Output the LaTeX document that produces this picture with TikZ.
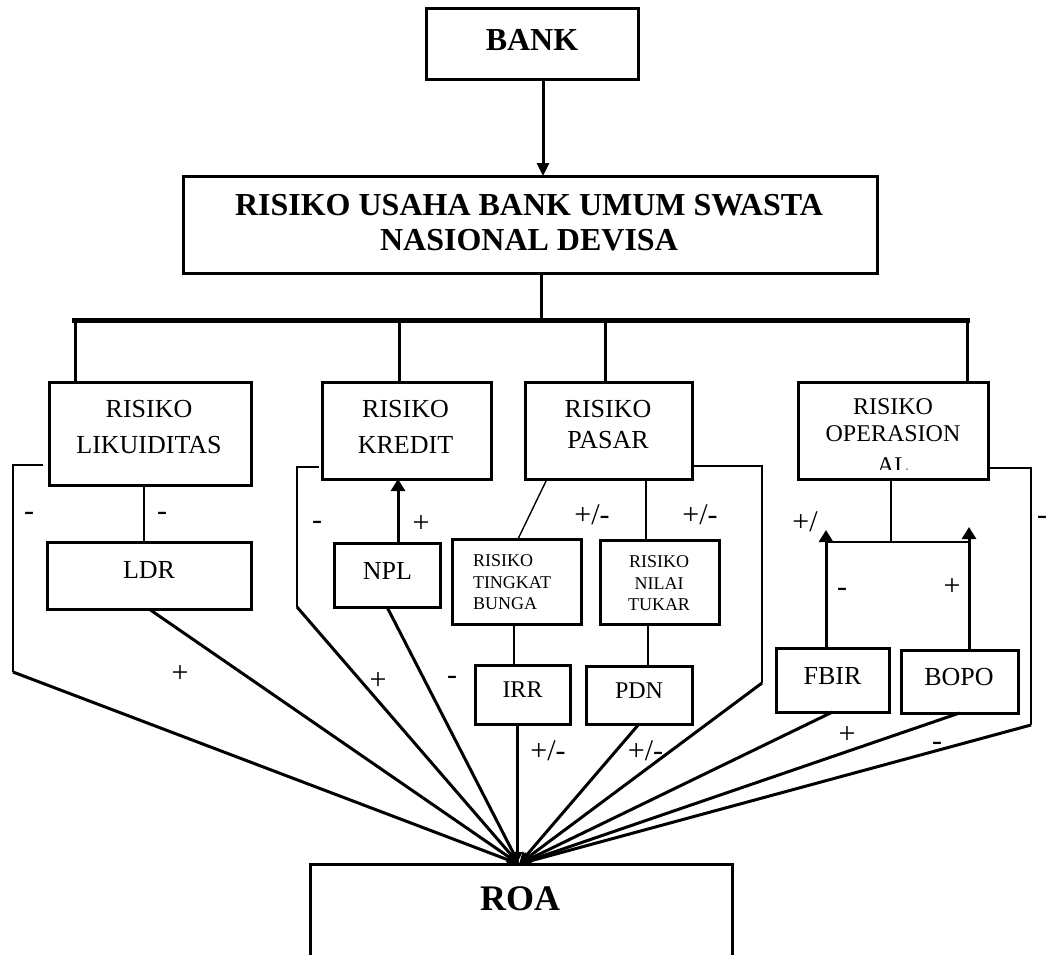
\documentclass[tikz,border=0pt]{standalone}
\usepackage{fontspec}
\setmainfont{Liberation Serif}
\usetikzlibrary{arrows.meta,calc}
\newcommand\fsTitle{\bfseries\fontsize{32}{35}\selectfont}
\newcommand\fsRoa{\bfseries\fontsize{36}{40}\selectfont}
\newcommand\fsMid{\fontsize{26}{36}\selectfont}
\newcommand\fsMidB{\fontsize{26}{31}\selectfont}
\newcommand\fsOps{\fontsize{24}{27}\selectfont}
\newcommand\fsSmall{\fontsize{18}{21.5}\selectfont}
\newcommand\fsLbl{\fontsize{30}{30}\selectfont}
\begin{document}
\begin{tikzpicture}[x=1pt,y=-1pt,
  frame/.style={draw, line width=3pt, inner sep=0pt, outer sep=0pt},
  txt/.style={inner sep=0pt, outer sep=0pt, anchor=north, align=center},
  thinline/.style={line width=1.4pt},
  thk/.style={line width=3pt},
  tipB/.style={-{Triangle[length=13pt,width=12pt]}},
  tipS/.style={-{Triangle[length=12pt,width=14pt]}},
  tipR/.style={-{Triangle[length=12pt,width=10pt]}},
  lbl/.style={inner sep=0pt, outer sep=0pt, anchor=base, font=\fsLbl},
]
\useasboundingbox (0,0) rectangle (1046,955);

% ---------- boxes ----------
\node[frame, minimum width=212pt, minimum height=71pt] (bank) at (532,44.5) {};
\node[frame, minimum width=694pt, minimum height=97pt] (main) at (530,224.5) {};
\node[frame, minimum width=202pt, minimum height=103pt] (lik) at (150,433.5) {};
\node[frame, minimum width=169pt, minimum height=97pt] (kre) at (406.5,430.5) {};
\node[frame, minimum width=167pt, minimum height=97pt] (pas) at (608.5,430.5) {};
\node[frame, minimum width=190pt, minimum height=97pt] (ops) at (893,430.5) {};
\node[frame, minimum width=204pt, minimum height=67pt] (ldr) at (149,575.5) {};
\node[frame, minimum width=106pt, minimum height=64pt] (npl) at (387,575) {};
\node[frame, minimum width=129pt, minimum height=85pt] (tkb) at (516.5,581.5) {};
\node[frame, minimum width=119pt, minimum height=84pt] (nil) at (659.5,582) {};
\node[frame, minimum width=95pt, minimum height=59pt] (irr) at (522.5,694.5) {};
\node[frame, minimum width=106pt, minimum height=58pt] (pdn) at (639,695) {};
\node[frame, minimum width=113pt, minimum height=64pt] (fbir) at (832.5,680) {};
\node[frame, minimum width=117pt, minimum height=63pt] (bopo) at (959.5,681.5) {};
\node[frame, anchor=north, minimum width=422pt, minimum height=140pt] (roa) at (521,864) {};

% ---------- texts ----------
\node[txt, font=\fsTitle] (tbank) at (532,29) {BANK};
\node[txt, font=\fsTitle] (tmain) at (529,194) {RISIKO USAHA BANK UMUM SWASTA\\NASIONAL DEVISA};
\node[txt, font=\fsMid] (tlik) at (149,400) {RISIKO\\LIKUIDITAS};
\node[txt, font=\fsMid] (tkre) at (405.5,400) {RISIKO\\KREDIT};
\node[txt, font=\fsMidB] (tpas) at (608,400) {RISIKO\\PASAR};
\node[txt, font=\fsOps] (tops) at (893,399) {RISIKO\\OPERASION};
\begin{scope}
  \clip (798,382) rectangle (988,469);
  \node[inner sep=0pt, anchor=base, font=\fsOps] (tal) at (893,473) {AL};
\end{scope}
\node[txt, font=\fsMid] (tldr) at (149,561) {LDR};
\node[txt, font=\fsMid] (tnpl) at (387.5,562) {NPL};
\node[txt, font=\fsSmall, anchor=north west, align=left] (ttkb) at (473,555) {RISIKO\\TINGKAT\\BUNGA};
\node[txt, font=\fsSmall] (tnil) at (659,556) {RISIKO\\NILAI\\TUKAR};
\node[txt, font=\fsOps] (tirr) at (522.5,682) {IRR};
\node[txt, font=\fsOps] (tpdn) at (639,683) {PDN};
\node[txt, font=\fsMid] (tfbir) at (832.5,667) {FBIR};
\node[txt, font=\fsMid] (tbopo) at (959,668) {BOPO};
\node[txt, font=\fsRoa] (troa) at (520,887) {ROA};

% ---------- top structure ----------
\draw[thk, tipB] ([xshift=11pt]bank.south) -- ([xshift=11pt]bank.south |- main.north);
\coordinate (busL) at (72,320);
\coordinate (busR) at (970,320);
\draw[thk] ([xshift=11pt]main.south) -- ([xshift=11pt]main.south |- busL);
\draw[line width=5pt] (busL) -- (busR);
\coordinate (d1) at (75,320);
\coordinate (d2) at (399,320);
\coordinate (d3) at (605,320);
\coordinate (d4) at (967,320);
\draw[thk] (d1) -- (d1 |- lik.north);
\draw[thk] (d2) -- (d2 |- kre.north);
\draw[thk] (d3) -- (d3 |- pas.north);
\draw[thk] (d4) -- (d4 |- ops.north);

% ---------- thin connectors ----------
\draw[thinline] ([xshift=-6pt]lik.south) -- ([xshift=-6pt]lik.south |- ldr.north);
\draw[thinline] ([xshift=-61.5pt]pas.south) -- ([xshift=1.5pt]tkb.north);
\draw[thinline] ([xshift=37.5pt]pas.south) -- ([xshift=37.5pt]pas.south |- nil.north);
\draw[thinline] ([xshift=-2.5pt]tkb.south) -- ([xshift=-2.5pt]tkb.south |- irr.north);
\draw[thinline] ([xshift=-11.5pt]nil.south) -- ([xshift=-11.5pt]nil.south |- pdn.north);
\coordinate (opj) at (891,542);
\coordinate (opL) at (826,542);
\coordinate (opR) at (969,542);
\draw[thinline] (ops.south -| opj) -- (opj);
\draw[thinline] (opL) -- (opR);

% ---------- upward arrows ----------
\draw[thk, tipS] ([xshift=11pt]npl.north) -- ([xshift=11pt]npl.north |- kre.south);
\draw[thk, tipS] (fbir.north -| opL) -- ([yshift=12pt]opL);
\draw[thk, tipS] (bopo.north -| opR) -- ([yshift=15pt]opR);

% ---------- brackets ----------
\coordinate (b1a) at (43,465);  \coordinate (b1b) at (13,465);  \coordinate (b1c) at (13,672);
\coordinate (b2a) at (319,467); \coordinate (b2b) at (297,467); \coordinate (b2c) at (297,607);
\coordinate (b3a) at (694,466); \coordinate (b3b) at (762,466); \coordinate (b3c) at (762,683);
\coordinate (b4a) at (988,468); \coordinate (b4b) at (1031,468); \coordinate (b4c) at (1031,725);
\draw[thinline] (b1a) -- (b1b) -- (b1c);
\draw[thinline] (b2a) -- (b2b) -- (b2c);
\draw[thinline] (b3a) -- (b3b) -- (b3c);
\draw[thinline] (b4a) -- (b4b) -- (b4c);

% ---------- lines into ROA ----------
\coordinate (rt) at ([xshift=-2pt]roa.north);
\draw[thk, tipR] (b1c) -- (rt);
\draw[thk, tipR] (ldr.south) -- (rt);
\draw[thk, tipR] (b2c) -- (rt);
\draw[thk, tipR] (npl.south) -- (rt);
\draw[thk, tipR] ([xshift=-5.5pt]irr.south) -- ([xshift=-5.5pt]irr.south |- roa.north);
\draw[thk, tipR] (pdn.south) -- (rt);
\draw[thk, tipR] (b3c) -- (rt);
\draw[thk, tipR] (fbir.south) -- (rt);
\draw[thk, tipR] (bopo.south) -- (rt);
\draw[thk, tipR] (b4c) -- (rt);

% ---------- signs ----------
\node[lbl] (l1) at (29,520) {-};
\node[lbl] (l2) at (162,520) {-};
\node[lbl] (l3) at (180,682) {+};
\node[lbl] (l4) at (317,529) {-};
\node[lbl] (l5) at (421,532) {+};
\node[lbl] (l6) at (378,689) {+};
\node[lbl] (l7) at (452,684) {-};
\node[lbl] (l8) at (592,524) {+/-};
\node[lbl] (l9) at (700,524) {+/-};
\node[lbl] (l10) at (548,760) {+/-};
\node[lbl] (l11) at (645.5,760) {+/-};
\node[lbl] (l12) at (805,531) {+/};
\node[lbl] (l13) at (842,596) {-};
\node[lbl] (l14) at (952,595) {+};
\node[lbl] (l15) at (847,743) {+};
\node[lbl] (l16) at (937,750) {-};
\node[lbl, anchor=base west] (l17) at (1037,524) {-};
\end{tikzpicture}
\end{document}
